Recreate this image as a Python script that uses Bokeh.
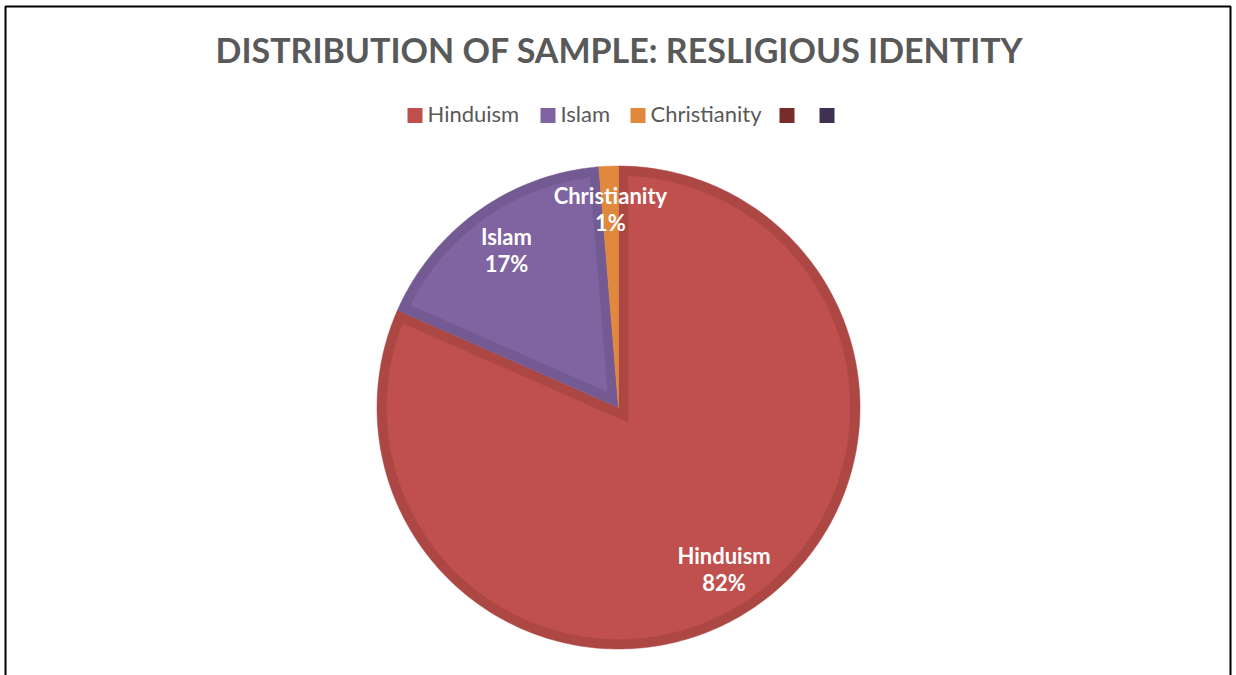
import numpy as np
from bokeh.plotting import figure
from bokeh.models import Range1d, ColumnDataSource
from bokeh.core.properties import value
from bokeh.embed import file_html
from bokeh.resources import INLINE

# ---- data -------------------------------------------------------------
chart_title = "DISTRIBUTION OF SAMPLE: RESLIGIOUS IDENTITY"
religions = ["Hinduism", "Islam", "Christianity"]
shares = [81.6, 17.1, 1.3]          # percent of sample
fill_colors = ["#C0504D", "#8064A2", "#E0883C"]
band_colors = ["#AC4744", "#735A92", "#CA7A36"]
# two unlabeled series that only appear in the legend
extra_legend_colors = ["#772C2A", "#3F3151"]

# ---- canvas -----------------------------------------------------------
W, H = 1236, 675
p = figure(width=W, height=H, x_range=Range1d(0, W), y_range=Range1d(H, 0),
           x_axis_type=None, y_axis_type=None, output_backend="svg",
           toolbar_location=None, min_border=0)
p.grid.visible = False
p.outline_line_color = None
p.background_fill_color = "white"

FONT = "Lato"

# chart frame
p.line(x=[5, 5, 1230, 1230], y=[H + 10, 6, 6, H + 10], line_color="black", line_width=2)

# ---- pie geometry -----------------------------------------------------
cx, cy, R = 618.0, 407.0, 241.5
band = 10.0


def direction(theta):
    # theta measured clockwise from 12 o'clock; y grows downward
    return np.array([np.sin(theta), -np.cos(theta)])


def arc(r, t0, t1, center):
    n = max(4, int(abs(t1 - t0) / np.radians(1.0)) + 2)
    ts = np.linspace(t0, t1, n)
    return [center[0] + r * np.sin(t) for t in ts], [center[1] - r * np.cos(t) for t in ts]


def wedge_polygon(t0, t1):
    ax, ay = arc(R, t0, t1, (cx, cy))
    return [cx] + ax, [cy] + ay


def inset_polygon(t0, t1):
    # slice shrunk inward by the band width on every side (mitered apex)
    h = (t1 - t0) / 2.0
    r = R - band
    dist = band / np.sin(h)
    if dist >= r * 0.95:
        return None
    c = np.array([cx, cy])
    apex = c + dist * direction(t0 + h)
    q = apex - c
    ends = []
    for t in (t0, t1):
        u = direction(t)
        qu = q @ u
        s = -qu + np.sqrt(qu * qu - q @ q + r * r)
        pt = q + s * u
        ends.append(np.arctan2(pt[0], -pt[1]))
    a0, a1 = ends
    while a1 <= a0:
        a1 += 2 * np.pi
    ax, ay = arc(r, a0, a1, (cx, cy))
    return [apex[0]] + ax, [apex[1]] + ay


fracs = np.array(shares) / sum(shares)
ends = np.cumsum(fracs) * 2 * np.pi
starts = ends - fracs * 2 * np.pi

outer_x, outer_y, inner_x, inner_y, inner_c = [], [], [], [], []
for t0, t1, fc in zip(starts, ends, fill_colors):
    ox, oy = wedge_polygon(t0, t1)
    outer_x.append(ox)
    outer_y.append(oy)
    ins = inset_polygon(t0, t1)
    if ins is not None:
        inner_x.append(ins[0])
        inner_y.append(ins[1])
        inner_c.append(fc)

band_fill = [b if inset_polygon(t0, t1) is not None else f
             for b, f, t0, t1 in zip(band_colors, fill_colors, starts, ends)]
p.patches(xs=outer_x, ys=outer_y, fill_color=band_fill, line_color=band_fill, line_width=0.5)
p.patches(xs=inner_x, ys=inner_y, fill_color=inner_c, line_color=inner_c, line_width=0.5)

# ---- data labels ------------------------------------------------------
mids = (starts + ends) / 2
label_r = [0.8 * R, 0.8 * R, 0.82 * R]
lx = [cx + r * np.sin(m) for r, m in zip(label_r, mids)]
ly = [cy - r * np.cos(m) for r, m in zip(label_r, mids)]
pct = [f"{round(s)}%" for s in shares]
lab = ColumnDataSource(dict(x=lx, y1=[v - 14 for v in ly], y2=[v + 13 for v in ly],
                            name=religions, pct=pct))
for ycol, tcol in (("y1", "name"), ("y2", "pct")):
    p.text(x="x", y=ycol, text=tcol, source=lab, text_color="white",
           text_font=value(FONT), text_font_style="bold", text_font_size="22px",
           text_align="center", text_baseline="middle")

# ---- title ------------------------------------------------------------
p.text(x=[619], y=[49], text=[chart_title], text_color="#595959",
       text_font=value(FONT), text_font_style="bold", text_font_size="34px",
       text_align="center", text_baseline="middle")

# ---- legend -----------------------------------------------------------
legend_names = religions + ["", ""]
legend_colors = fill_colors + extra_legend_colors
legend_left = [407, 540, 630, 779, 819]
leg = ColumnDataSource(dict(x=[v + 7.5 for v in legend_left],
                            tx=[v + 20 for v in legend_left],
                            y=[115] * 5, ty=[113] * 5,
                            name=legend_names, color=legend_colors))
p.rect(x="x", y="y", width=15, height=15, fill_color="color", line_color=None, source=leg)
p.text(x="tx", y="ty", text="name", source=leg, text_color="#595959",
       text_font=value(FONT), text_font_size="22px",
       text_align="left", text_baseline="middle")

open("out.html", "w").write(file_html(p, INLINE))
